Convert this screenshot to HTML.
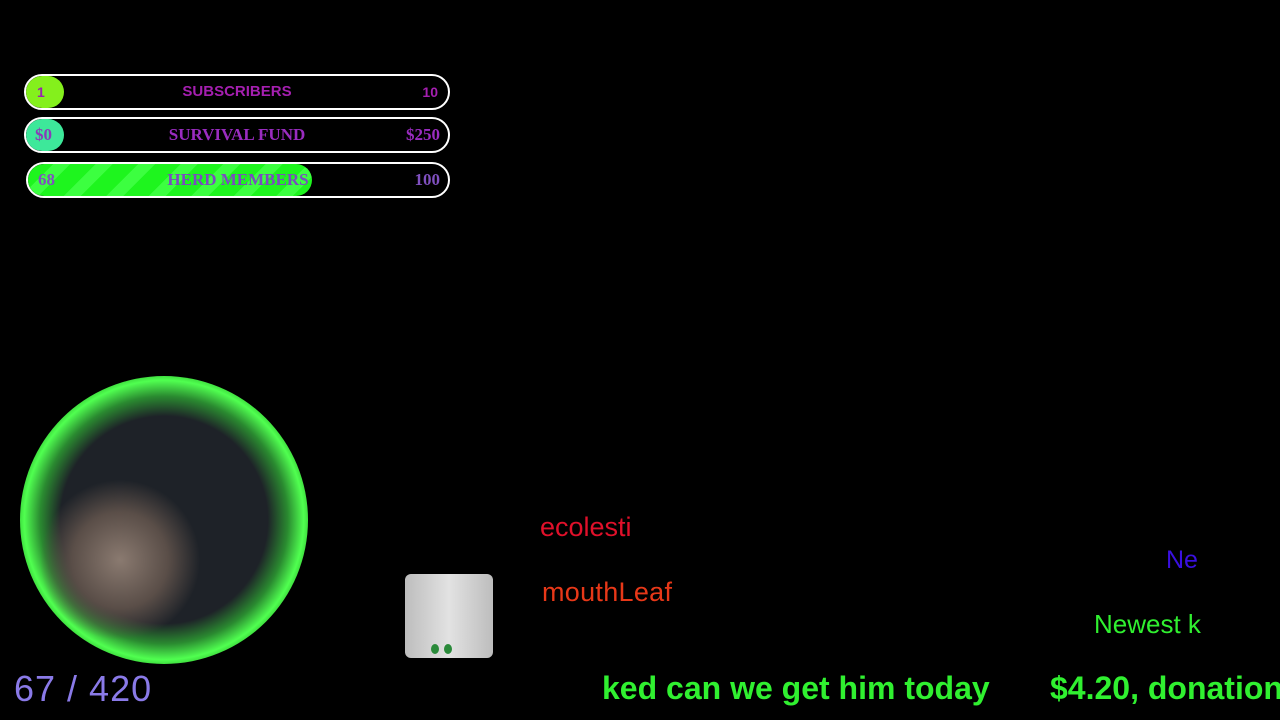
<!DOCTYPE html>
<html><head><style>
body{margin:0;width:1280px;height:720px;background:#000;position:relative;overflow:hidden;font-family:"Liberation Sans",sans-serif}
.bar{position:absolute;left:24px;width:422px;height:32px;border:2px solid #fff;border-radius:18px;overflow:hidden;background:#000}
.fill{position:absolute;left:0;top:0;bottom:0;border-radius:18px}
.t{position:absolute;top:0;height:32px;line-height:32px;font-size:17px;font-weight:bold}
.serif{font-family:"Liberation Serif",serif}
.a{position:absolute;white-space:nowrap}
</style></head><body>
<div class="bar" style="top:74px">
 <div class="fill" style="width:38px;background:#84f01c"></div>
 <div class="t" style="left:11px;color:#9a22b0;font-size:14px">1</div>
 <div class="t" style="left:0;right:0;text-align:center;color:#a51fb0;font-size:15px">SUBSCRIBERS</div>
 <div class="t" style="right:10px;color:#a51fb0;font-size:14px">10</div>
</div>
<div class="bar serif" style="top:117px">
 <div class="fill" style="width:38px;background:#3de89a"></div>
 <div class="t serif" style="left:9px;color:#8a3ab8">$0</div>
 <div class="t serif" style="left:0;right:0;text-align:center;color:#9a2cc0">SURVIVAL FUND</div>
 <div class="t serif" style="right:8px;color:#9a2cc0">$250</div>
</div>
<div class="bar" style="top:162px;left:26px;width:420px">
 <div class="fill" style="width:284px;background:repeating-linear-gradient(135deg,#1ef51e 0 18px,#3cff40 18px 30px)"></div>
 <div class="t serif" style="left:10px;color:#8050c0">68</div>
 <div class="t serif" style="left:0;right:0;text-align:center;color:#7a4cc0">HERD MEMBERS</div>
 <div class="t serif" style="right:8px;color:#8050c0">100</div>
</div>
<div class="a" style="left:20px;top:376px;width:288px;height:288px;border-radius:50%;background:radial-gradient(circle closest-side,#1e2228 0%,#1e2228 72%,#2a8a30 86%,#50ff50 97%,#40e040 100%)"></div>
<div class="a" style="left:40px;top:470px;width:160px;height:180px;border-radius:50%;background:radial-gradient(circle closest-side,#8a7a70 0%,#5a4e48 60%,transparent 100%)"></div>
<div class="a" style="left:14px;top:668px;font-size:36px;color:#8a7ae8;letter-spacing:1px">67 / 420</div>
<div class="a" style="left:405px;top:574px;width:88px;height:84px;border-radius:6px;background:linear-gradient(90deg,#bdbdbd,#e2e2e2 50%,#bdbdbd)"></div>
<div class="a" style="left:431px;top:644px;width:8px;height:10px;border-radius:50%;background:#2a8a3a"></div>
<div class="a" style="left:444px;top:644px;width:8px;height:10px;border-radius:50%;background:#2a8a3a"></div>
<div class="a" style="left:540px;top:512px;font-size:27px;color:#e0102a">ecolesti</div>
<div class="a" style="left:542px;top:577px;font-size:27px;color:#e83818;letter-spacing:0.3px">mouthLeaf</div>
<div class="a" style="left:1166px;top:546px;font-size:25px;color:#3a10e0">Ne</div>
<div class="a" style="left:1094px;top:609px;font-size:26px;color:#30f030">Newest k</div>
<div class="a" style="left:602px;top:670px;font-size:32px;font-weight:bold;color:#30f030">ked can we get him today</div>
<div class="a" style="left:1050px;top:670px;font-size:32px;font-weight:bold;color:#30f030">$4.20, donation</div>
</body></html>
